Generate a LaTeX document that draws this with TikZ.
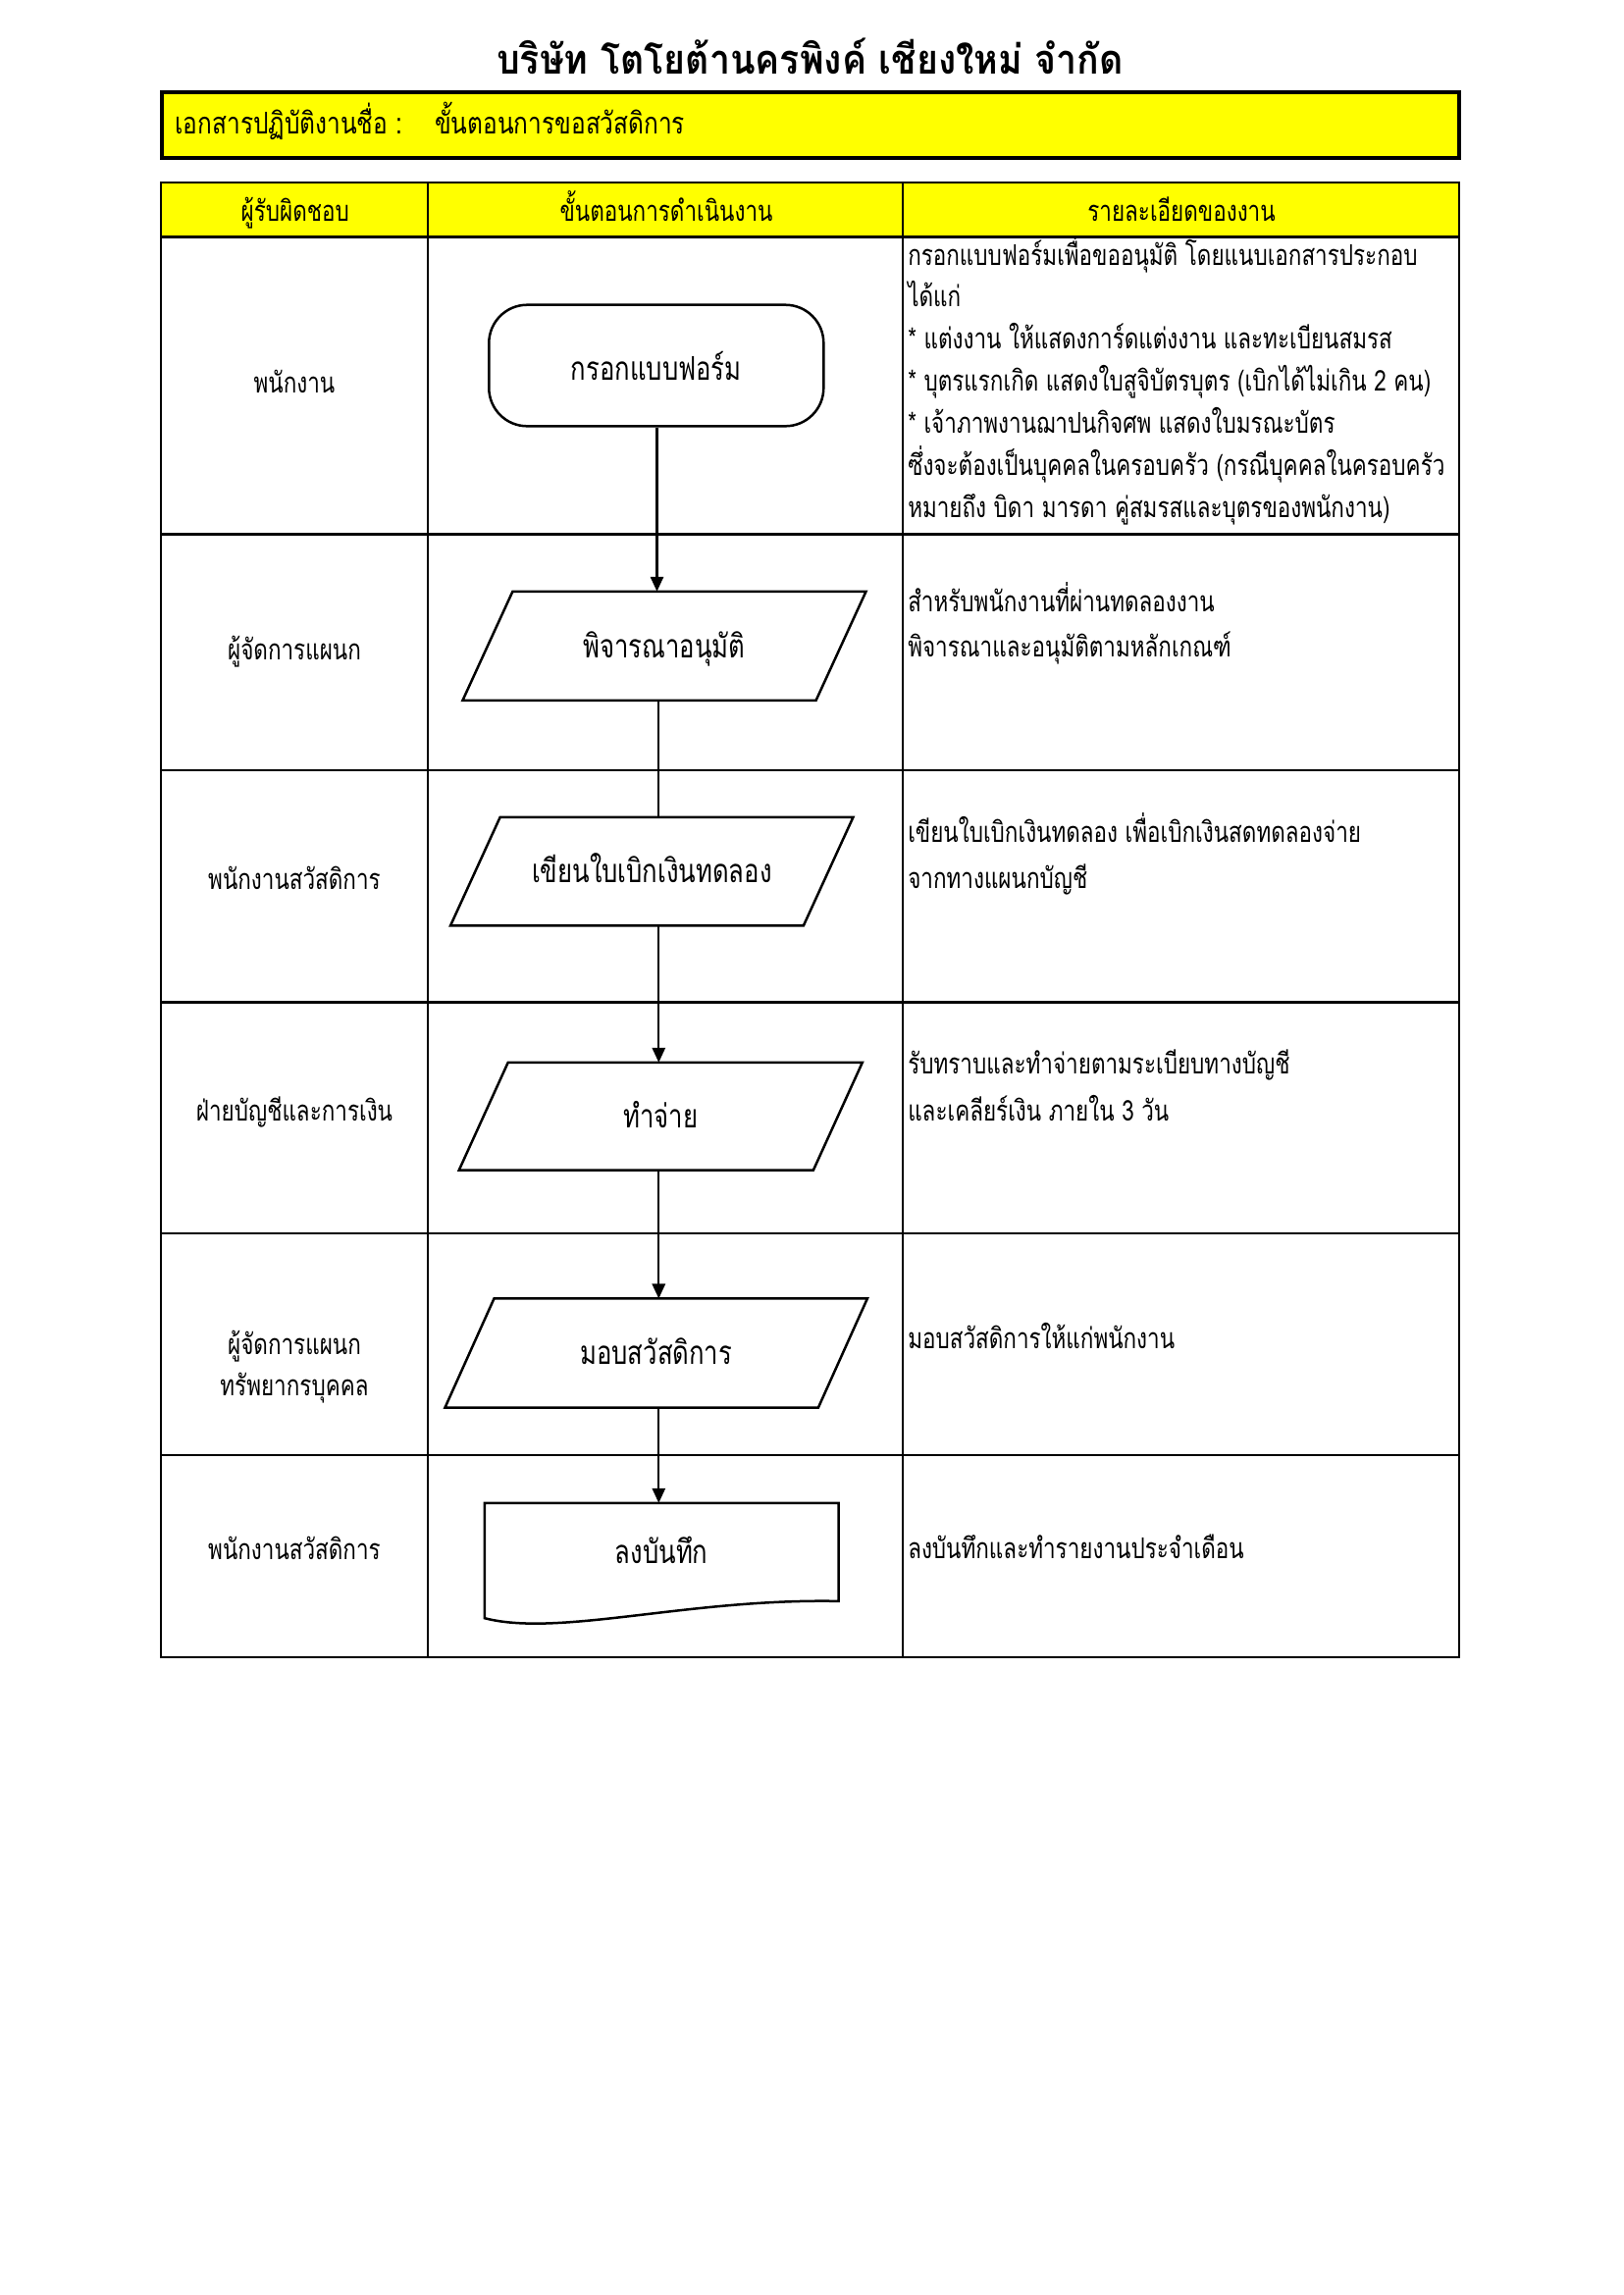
\documentclass[tikz,border=0pt]{standalone}
\usepackage{fontspec}
\usetikzlibrary{arrows.meta,calc}
\newfontfamily\thaibody[Script=Thai,FakeStretch=0.77]{Loma}
\newfontfamily\thaititle[Script=Thai,FakeStretch=0.9]{Loma}
\newfontfamily\thaihead[Script=Thai,FakeStretch=0.8]{Loma}
\definecolor{hdryellow}{RGB}{255,255,0}
\newcommand\paradraw[2]{\draw[shapeline] ($(#1.north west)+(#2,0)$) -- ($(#1.north east)+(#2,0)$) -- ($(#1.south east)-(#2,0)$) -- ($(#1.south west)-(#2,0)$) -- cycle;}
\begin{document}
\begin{tikzpicture}[x=0.36pt,y=-0.36pt,
  bodyfont/.style={font=\thaibody\fontsize{10.5}{12}\selectfont},
  lbl/.style={bodyfont,anchor=base,inner sep=0pt},
  det/.style={bodyfont,anchor=base west,inner sep=0pt},
  shp/.style={inner sep=0pt,text height=8.6pt,text depth=0pt,font=\thaibody\fontsize{12}{14}\selectfont},
  shapeline/.style={line width=0.9pt},
  tline/.style={line width=0.8pt},
  conn/.style={line width=0.75pt},
  arr/.style={conn,-{Triangle[length=5.4pt,width=4.8pt]}}]
\useasboundingbox (0,0) rectangle (1654,2339);
% title
\node[anchor=base,inner sep=0pt,font=\thaititle\bfseries\fontsize{15}{18}\selectfont] (title) at (825.5,75) {บริษัท โตโยต้านครพิงค์ เชียงใหม่ จำกัด};
% document name box
\draw[line width=1.4pt,fill=hdryellow] (164.7,93.7) rectangle (1486.7,160.7);
\node[anchor=base west,inner sep=0pt,font=\thaihead\fontsize{11}{13}\selectfont] (docl) at (178,136.5) {เอกสารปฏิบัติงานชื่อ :};
\node[anchor=base west,inner sep=0pt,font=\thaihead\fontsize{11}{13}\selectfont] (docn) at (442.7,136.5) {ขั้นตอนการขอสวัสดิการ};
% table
\fill[hdryellow] (164,186) rectangle (1487,241.5);
\draw[tline] (164,186) rectangle (1487,1689);
\foreach \yy in {241.5,544.4,784.7,1021.5,1257.3,1482.7} \draw[tline] (164,\yy) -- (1487,\yy);
\foreach \xx in {436,920} \draw[tline] (\xx,186) -- (\xx,1689);
\node[lbl] (h1) at (300.8,225) {ผู้รับผิดชอบ};
\node[lbl] (h2) at (679,225) {ขั้นตอนการดำเนินงาน};
\node[lbl] (h3) at (1204,225) {รายละเอียดของงาน};
% left column
\node[lbl] (l1) at (300,400.5) {พนักงาน};
\node[lbl] (l2) at (300,672) {ผู้จัดการแผนก};
\node[lbl] (l3) at (300,906.5) {พนักงานสวัสดิการ};
\node[lbl] (l4) at (300,1142) {ฝ่ายบัญชีและการเงิน};
\node[lbl] (l5a) at (300,1380) {ผู้จัดการแผนก};
\node[lbl] (l5b) at (300,1422.5) {ทรัพยากรบุคคล};
\node[lbl] (l6) at (300,1589) {พนักงานสวัสดิการ};
% details
\node[det] (d1a) at (924.7,270) {กรอกแบบฟอร์มเพื่อขออนุมัติ โดยแนบเอกสารประกอบ};
\node[det] (d1b) at (924.7,312.8) {ได้แก่};
\node[det] (d1c) at (924.7,355.7) {* แต่งงาน ให้แสดงการ์ดแต่งงาน และทะเบียนสมรส};
\node[det] (d1d) at (924.7,398.5) {* บุตรแรกเกิด แสดงใบสูจิบัตรบุตร (เบิกได้ไม่เกิน 2 คน)};
\node[det] (d1e) at (924.7,441.3) {* เจ้าภาพงานฌาปนกิจศพ แสดงใบมรณะบัตร};
\node[det] (d1f) at (924.7,484.2) {ซึ่งจะต้องเป็นบุคคลในครอบครัว (กรณีบุคคลในครอบครัว};
\node[det] (d1g) at (924.7,527) {หมายถึง บิดา มารดา คู่สมรสและบุตรของพนักงาน)};
\node[det] (d2a) at (924.7,623) {สำหรับพนักงานที่ผ่านทดลองงาน};
\node[det] (d2b) at (924.7,669) {พิจารณาและอนุมัติตามหลักเกณฑ์};
\node[det] (d3a) at (924.7,858.5) {เขียนใบเบิกเงินทดลอง เพื่อเบิกเงินสดทดลองจ่าย};
\node[det] (d3b) at (924.7,905) {จากทางแผนกบัญชี};
\node[det] (d4a) at (924.7,1094) {รับทราบและทำจ่ายตามระเบียบทางบัญชี};
\node[det] (d4b) at (924.7,1142) {และเคลียร์เงิน ภายใน 3 วัน};
\node[det] (d5) at (924.7,1374.7) {มอบสวัสดิการให้แก่พนักงาน};
\node[det] (d6) at (924.7,1588) {ลงบันทึกและทำรายงานประจำเดือน};
% flow shapes
\node[shp,text height=10.9pt,draw,shapeline,rounded corners=14pt,minimum width=341*0.36pt,minimum height=123.6*0.36pt] (s1) at (668.8,372.5) {กรอกแบบฟอร์ม};
\node[shp,minimum width=359*0.36pt,minimum height=110*0.36pt] (s2) at (677,658.3) {พิจารณาอนุมัติ};
\node[shp,minimum width=358.7*0.36pt,minimum height=109.4*0.36pt] (s3) at (664.3,888) {เขียนใบเบิกเงินทดลอง};
\node[shp,minimum width=360*0.36pt,minimum height=108.7*0.36pt] (s4) at (673.3,1137.7) {ทำจ่าย};
\node[shp,minimum width=379.3*0.36pt,minimum height=110*0.36pt] (s5) at (668.7,1379) {มอบสวัสดิการ};
\node[shp,minimum width=359.7*0.36pt,minimum height=99*0.36pt] (s6) at (674.2,1581.8) {ลงบันทึก};
\paradraw{s2}{25.5}
\paradraw{s3}{25.3}
\paradraw{s4}{25}
\paradraw{s5}{25}
\draw[shapeline] (s6.north west) -- (s6.north east) -- (s6.south east)
  .. controls ($(s6.south east)+(-154,-3)$) and ($(s6.south west)+(76,37)$) .. ($(s6.south west)+(0,17.3)$) -- cycle;
% connectors
\coordinate (cxa) at (669.5,0);
\coordinate (cx) at (671.3,0);
\draw[arr] (s1.south -| cxa) -- (s2.north -| cxa);
\draw[conn] (s2.south -| cx) -- (s3.north -| cx);
\draw[arr] (s3.south -| cx) -- (s4.north -| cx);
\draw[arr] (s4.south -| cx) -- (s5.north -| cx);
\draw[arr] (s5.south -| cx) -- (s6.north -| cx);
\end{tikzpicture}
\end{document}
